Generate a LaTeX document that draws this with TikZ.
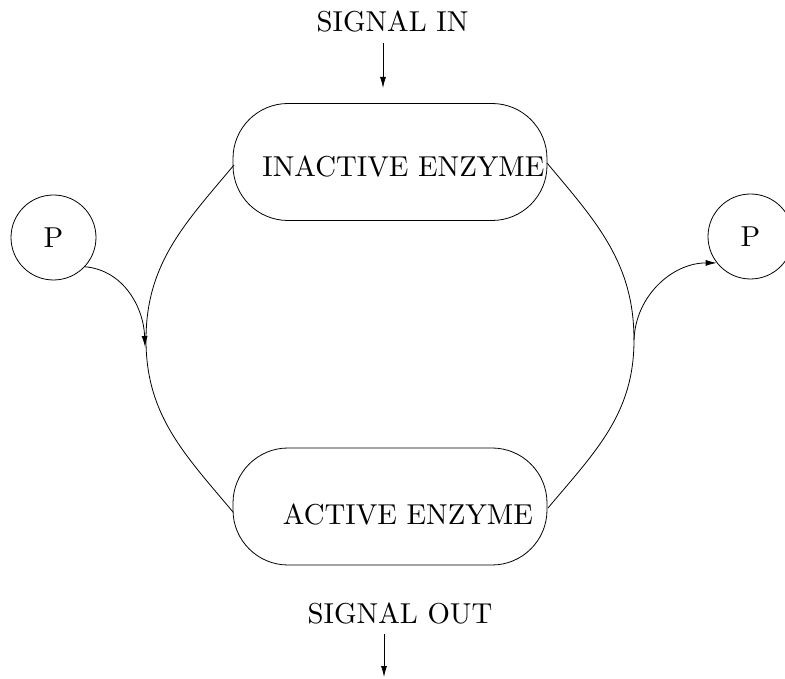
\documentclass[tikz,border=0pt]{standalone}
\usetikzlibrary{arrows.meta}
\begin{document}
\begin{tikzpicture}[x=1pt,y=1pt,line width=0.8pt,
  lbl/.style={anchor=base, inner sep=0pt},
  enzbox/.style={draw, rectangle, rounded corners=55pt, minimum width=314pt, minimum height=117pt, inner sep=0pt},
  pcirc/.style={draw, circle, minimum size=85pt, inner sep=0pt},
  arr/.style={-{Latex[length=11pt,width=6pt]}}]
\newcommand{\bigtxt}[1]{\scalebox{2.88}{#1}}
\useasboundingbox (0,0) rectangle (785,678);
% texts
\node[lbl] (sigin) at (392.5,646) {\bigtxt{SIGNAL IN}};
\node[lbl] (sigout) at (400,55) {\bigtxt{SIGNAL OUT}};
% boxes
\node[enzbox] (inact) at (390,516) {};
\node[lbl] (inacttxt) at (403.5,501) {\bigtxt{INACTIVE ENZYME}};
\node[enzbox] (act) at (390,171.5) {};
\node[lbl] (acttxt) at (408,153) {\bigtxt{ACTIVE ENZYME}};
% phosphate circles
\node[pcirc] (pl) at (53.5,440.5) {\bigtxt{P}};
\node[pcirc] (pr) at (750.5,441.5) {\bigtxt{P}};
% signal arrows
\coordinate (inTop) at (383,635);
\coordinate (inBot) at (383,590);
\coordinate (outTop) at (384,44);
\coordinate (outBot) at (384,1);
\draw[arr] (inTop) -- (inBot);
\draw[arr] (outTop) -- (outBot);
% cycle curves
\coordinate (A1) at (234,513);
\coordinate (A2) at (233,166);
\coordinate (L) at (146,338);
\coordinate (B1) at (547,515);
\coordinate (B2) at (548,170);
\coordinate (R) at (634,338);
\draw (A1) to[out=230,in=90] (L) to[out=-90,in=130] (A2);
\draw (B1) to[out=-50,in=90] (R) to[out=-90,in=50] (B2);
% phosphate arrows
\coordinate (Ltip) at (145,331);
\draw[arr] (pl.-43) to[out=-5,in=92] (Ltip);
\draw[arr] (R) to[out=88,in=180] (pr.218);
\end{tikzpicture}
\end{document}
